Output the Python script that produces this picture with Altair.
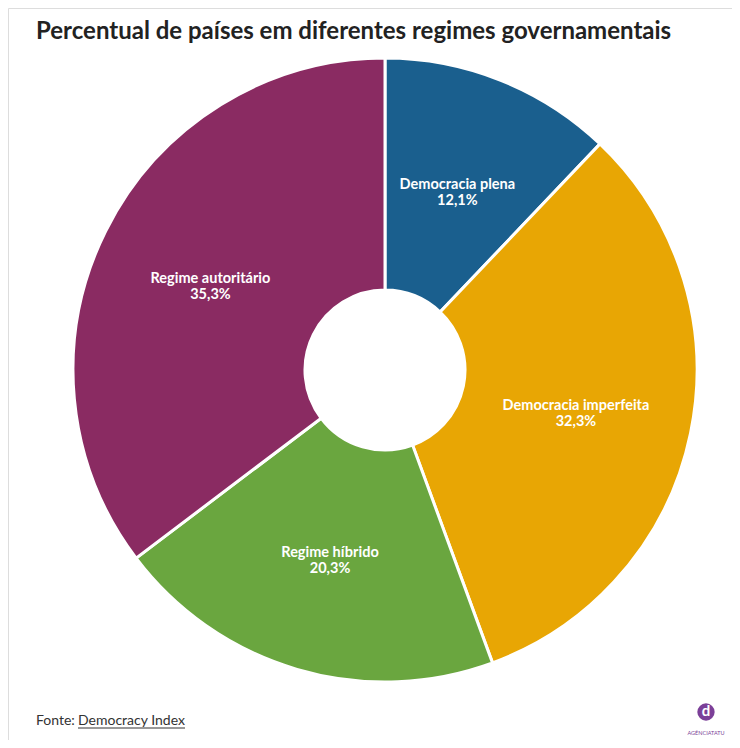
import altair as alt
import pandas as pd

categories = ["Democracia plena", "Democracia imperfeita", "Regime híbrido", "Regime autoritário"]
values = [12.1, 32.3, 20.3, 35.3]
colors = ["#1a5f8e", "#e8a604", "#6aa63f", "#8a2b62"]
order_idx = [0, 1, 2, 3]

df = pd.DataFrame({"cat": categories, "value": values, "idx": order_idx})

W, H = 724, 732
CX, CY = 377, 362

base = alt.Chart(df).encode(
    theta=alt.Theta("value:Q", stack=True),
    order=alt.Order("idx:Q"),
)

arcs = base.mark_arc(outerRadius=312, innerRadius=80, stroke="white", strokeWidth=3).encode(
    color=alt.Color("cat:N", scale=alt.Scale(domain=categories, range=colors), legend=None),
    x=alt.value(CX), y=alt.value(CY),
)

labels = base.transform_calculate(
    label="[datum.cat, replace(format(datum.value, '.1f'), '.', ',') + '%']"
).mark_text(
    radius=195, font="Lato", fontWeight="bold", fontSize=14.5, color="white",
    align="center", baseline="middle", lineHeight=16, dy=-4,
).encode(
    text="label:N",
    x=alt.value(CX), y=alt.value(CY),
)

ann = pd.DataFrame({"k": [0]})
annbase = alt.Chart(ann)

title = annbase.mark_text(
    text="Percentual de países em diferentes regimes governamentais",
    font="Lato", fontWeight="bold", fontSize=24, color="#222222", align="left", baseline="alphabetic",
).encode(x=alt.value(28), y=alt.value(31))

fonte = annbase.mark_text(
    text="Fonte: ", font="Lato", fontSize=14, color="#333333", align="left", baseline="alphabetic",
).encode(x=alt.value(28), y=alt.value(717))

fonte_link = annbase.mark_text(
    text="Democracy Index", font="Lato", fontSize=14, color="#333333", align="left", baseline="alphabetic",
).encode(x=alt.value(70), y=alt.value(717))

underline = annbase.mark_rule(color="#333333", strokeWidth=1).encode(
    x=alt.value(70), x2=alt.value(177), y=alt.value(720)
)

logo = annbase.mark_point(filled=True, shape="circle", size=300, color="#7b3f98", opacity=1).encode(
    x=alt.value(698), y=alt.value(704)
)
logo_d = annbase.mark_text(
    text="d", font="Lato", fontWeight="bold", fontSize=15, color="white", align="center", baseline="middle"
).encode(x=alt.value(698), y=alt.value(703))
logo_txt = annbase.mark_text(
    text="AGÊNCIATATU", font="Lato", fontSize=5.5, color="#7b3f98", align="center", baseline="middle"
).encode(x=alt.value(698), y=alt.value(725))

chart = alt.layer(arcs, labels, title, fonte, fonte_link, underline, logo, logo_d, logo_txt).properties(
    width=W, height=H,
    autosize=alt.AutoSizeParams(type="none"),
    padding=0,
).configure_view(stroke=None).configure(background="white")

chart.save("out.html", embed_options={"renderer": "svg", "actions": False})
